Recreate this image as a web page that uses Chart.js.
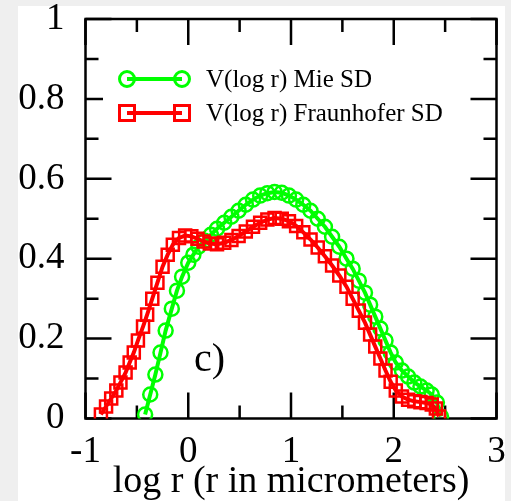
<!DOCTYPE html>
<html><head><meta charset="utf-8">
<script src="https://cdn.jsdelivr.net/npm/chart.js@4/dist/chart.umd.min.js"></script>
<style>
html,body{margin:0;padding:0;background:#efefef;overflow:hidden}
canvas{display:block}
</style></head>
<body>
<canvas id="c" width="511" height="501"></canvas>
<script>
// ---- data ----
const xTickValues = [-1, 0, 1, 2, 3];
const yTickValues = [0, 0.2, 0.4, 0.6, 0.8, 1];
const xAxisTitle = 'log r (r in micrometers)';
const panelLabel = 'c)';
const mieLabel = 'V(log r) Mie SD';
const fraunLabel = 'V(log r) Fraunhofer SD';

const mieX = [-0.42,-0.37,-0.32,-0.27,-0.22,-0.16,-0.11,-0.06,0.0,0.05,0.1,0.16,0.22,0.28,0.35,0.42,0.49,0.56,0.63,0.70,0.77,0.84,0.91,0.98,1.05,1.12,1.19,1.26,1.33,1.40,1.47,1.54,1.60,1.66,1.72,1.77,1.82,1.87,1.92,1.97,2.02,2.08,2.14,2.20,2.26,2.32,2.37,2.42,2.46];
const mieY = [0.01,0.06,0.11,0.165,0.22,0.275,0.32,0.355,0.39,0.41,0.43,0.445,0.46,0.475,0.49,0.505,0.52,0.535,0.548,0.558,0.564,0.567,0.565,0.558,0.548,0.535,0.52,0.50,0.48,0.455,0.43,0.40,0.375,0.345,0.315,0.285,0.255,0.225,0.195,0.165,0.14,0.12,0.105,0.09,0.08,0.07,0.06,0.04,0.005];

const fraunX = [-0.85,-0.80,-0.75,-0.70,-0.66,-0.61,-0.57,-0.53,-0.49,-0.44,-0.40,-0.35,-0.30,-0.25,-0.20,-0.15,-0.09,-0.03,0.03,0.09,0.15,0.21,0.28,0.35,0.42,0.49,0.56,0.63,0.70,0.77,0.84,0.91,0.98,1.05,1.12,1.19,1.26,1.33,1.40,1.47,1.54,1.60,1.66,1.72,1.77,1.82,1.87,1.92,1.97,2.02,2.08,2.14,2.20,2.26,2.32,2.37,2.41,2.44];
const fraunY = [0.01,0.03,0.05,0.07,0.09,0.115,0.14,0.165,0.195,0.23,0.26,0.30,0.34,0.38,0.41,0.435,0.452,0.458,0.456,0.45,0.443,0.438,0.436,0.44,0.447,0.457,0.468,0.48,0.49,0.498,0.502,0.50,0.494,0.482,0.466,0.448,0.428,0.406,0.383,0.358,0.33,0.30,0.27,0.24,0.21,0.18,0.15,0.12,0.092,0.07,0.055,0.047,0.043,0.041,0.039,0.035,0.025,0.005];

// ---- styling ----
const FONT = 'Liberation Serif';
const GREEN = '#00ff00';
const RED = '#ff0000';
const PLOT = {left: 85.5, right: 496.5, top: 19, bottom: 418.5};

function pts(xs, ys){ return xs.map((x, i) => ({x: x, y: ys[i]})); }

function minorsOf(major){
  const out = [];
  for (let i = 0; i < major.length - 1; i++) out.push((major[i] + major[i+1]) / 2);
  return out;
}

function zeroPad(s){ s.paddingTop = 0; s.paddingBottom = 0; s.paddingLeft = 0; s.paddingRight = 0; }

const decorPlugin = {
  id: 'decor',
  beforeDraw(chart){
    const ctx = chart.ctx;
    ctx.save();
    ctx.fillStyle = '#efefef';
    ctx.fillRect(0, 0, chart.width, chart.height);
    ctx.fillStyle = '#ffffff';
    ctx.fillRect(18, 6, 487, 495);
    ctx.restore();
  },
  beforeDatasetsDraw(chart){
    const {ctx, chartArea: a, scales} = chart;
    const xs = scales.x, ys = scales.y;
    ctx.save();
    ctx.strokeStyle = '#000';
    ctx.lineWidth = 2.5;
    ctx.lineCap = 'butt';
    ctx.beginPath();
    const MAJ = 26, MIN = 13;
    xTickValues.forEach(v => {
      const px = xs.getPixelForValue(v);
      ctx.moveTo(px, a.bottom); ctx.lineTo(px, a.bottom - MAJ);
      ctx.moveTo(px, a.top); ctx.lineTo(px, a.top + MAJ);
    });
    minorsOf(xTickValues).forEach(v => {
      const px = xs.getPixelForValue(v);
      ctx.moveTo(px, a.bottom); ctx.lineTo(px, a.bottom - MIN);
      ctx.moveTo(px, a.top); ctx.lineTo(px, a.top + MIN);
    });
    yTickValues.forEach(v => {
      const py = ys.getPixelForValue(v);
      ctx.moveTo(a.left, py); ctx.lineTo(a.left + MAJ, py);
      ctx.moveTo(a.right, py); ctx.lineTo(a.right - MAJ, py);
    });
    minorsOf(yTickValues).forEach(v => {
      const py = ys.getPixelForValue(v);
      ctx.moveTo(a.left, py); ctx.lineTo(a.left + MIN, py);
      ctx.moveTo(a.right, py); ctx.lineTo(a.right - MIN, py);
    });
    ctx.stroke();
    ctx.strokeRect(a.left, a.top, a.right - a.left, a.bottom - a.top);
    ctx.restore();
  },
  afterDraw(chart){
    const ctx = chart.ctx;
    ctx.save();
    // legend box (white, covers part of the 0.8 tick like the original)
    ctx.fillStyle = '#fff';
    ctx.fillRect(103, 55, 340, 75);
    const items = chart.data.datasets.slice().sort((p, q) => p.legendIndex - q.legendIndex);
    items.forEach((ds, i) => {
      const y = 79 + i * 34;
      ctx.strokeStyle = ds.borderColor;
      ctx.lineWidth = ds.borderWidth;
      ctx.beginPath(); ctx.moveTo(127, y); ctx.lineTo(182, y); ctx.stroke();
      ctx.lineWidth = 3;
      [127, 182].forEach(cx => {
        ctx.beginPath();
        if (ds.pointStyle === 'circle') {
          ctx.arc(cx, y, 7.5, 0, Math.PI * 2);
        } else {
          ctx.rect(cx - 7.5, y - 7.5, 15, 15);
        }
        ctx.stroke();
      });
      ctx.fillStyle = '#000';
      ctx.font = '25px "' + FONT + '"';
      ctx.textBaseline = 'middle';
      ctx.textAlign = 'left';
      ctx.fillText(ds.label, 206, y + 1);
    });
    // panel label
    ctx.font = '40px "' + FONT + '"';
    ctx.fillStyle = '#000';
    ctx.textBaseline = 'middle';
    ctx.textAlign = 'left';
    ctx.fillText(panelLabel, 194, 360);
    ctx.restore();
  }
};

new Chart(document.getElementById('c'), {
  type: 'scatter',
  data: {
    datasets: [
      {
        label: mieLabel, legendIndex: 0, order: 2,
        data: pts(mieX, mieY), showLine: true,
        borderColor: GREEN, borderWidth: 4,
        pointStyle: 'circle', pointRadius: 7, pointBorderWidth: 2.5,
        pointBorderColor: GREEN, pointBackgroundColor: 'rgba(0,0,0,0)',
        tension: 0
      },
      {
        label: fraunLabel, legendIndex: 1, order: 1,
        data: pts(fraunX, fraunY), showLine: true,
        borderColor: RED, borderWidth: 4,
        pointStyle: 'rect', pointRadius: 8.5, pointBorderWidth: 2.5,
        pointBorderColor: RED, pointBackgroundColor: 'rgba(0,0,0,0)',
        tension: 0
      }
    ]
  },
  options: {
    responsive: false, animation: false, devicePixelRatio: 1,
    layout: {padding: {left: 0, right: 511 - PLOT.right, top: PLOT.top, bottom: 0}},
    plugins: {legend: {display: false}, tooltip: {enabled: false}},
    scales: {
      x: {
        type: 'linear', min: -1, max: 3,
        afterBuildTicks: s => { s.ticks = xTickValues.map(v => ({value: v})); },
        grid: {display: false}, border: {display: false},
        ticks: {font: {family: FONT, size: 37}, color: '#000', padding: 4, maxRotation: 0, autoSkip: false,
                callback: v => String(v)},
        title: {display: true, text: xAxisTitle, color: '#000', font: {family: FONT, size: 38, lineHeight: 1}, padding: {top: 0, bottom: 0}},
        afterFit: s => { s.height = 501 - PLOT.bottom; zeroPad(s); }
      },
      y: {
        type: 'linear', min: 0, max: 1,
        afterBuildTicks: s => { s.ticks = yTickValues.map(v => ({value: v})); },
        grid: {display: false}, border: {display: false},
        ticks: {font: {family: FONT, size: 37}, color: '#000', padding: 13, autoSkip: false,
                callback: v => String(v)},
        afterFit: s => { s.width = PLOT.left; zeroPad(s); }
      }
    }
  },
  plugins: [decorPlugin]
});
</script>
</body></html>
